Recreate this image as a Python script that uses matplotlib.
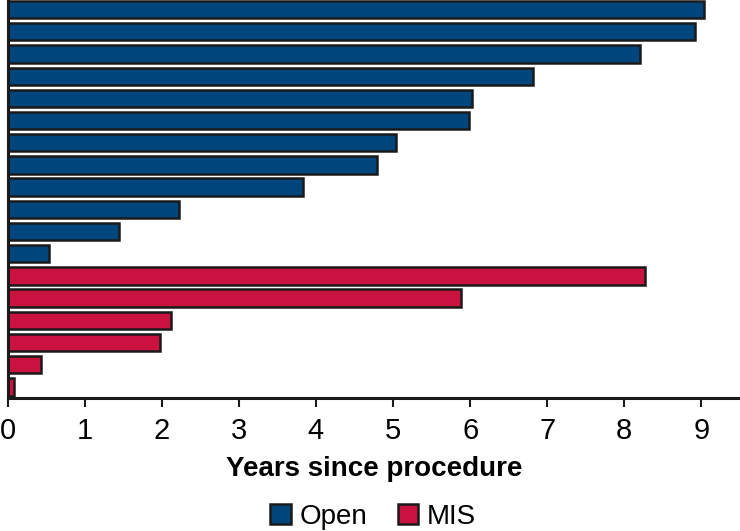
import matplotlib
matplotlib.use("Agg")
import matplotlib.pyplot as plt
from matplotlib.patches import Patch

plt.rcParams['font.family'] = ['Liberation Sans', 'DejaVu Sans']

open_years = [9.03, 8.92, 8.20, 6.82, 6.02, 5.99, 5.04, 4.79, 3.83, 2.23, 1.44, 0.54]
mis_years = [8.27, 5.88, 2.12, 1.98, 0.43, 0.09]
series_names = ["Open", "MIS"]
series_colors = ["#00467D", "#C9123F"]
xticks = list(range(0, 10))
xlabel = "Years since procedure"

fig = plt.figure(figsize=(7.40, 5.31), dpi=100)
ax = fig.add_axes([7.5 / 740, (531 - 398) / 531, 1 - 7.5 / 740, 399.5 / 531])

values = open_years + mis_years
colors = [series_colors[0]] * len(open_years) + [series_colors[1]] * len(mis_years)
positions = list(range(len(values)))
ax.barh(positions, values, height=0.78, color=colors, edgecolor="#1a1a1a", linewidth=1.8, zorder=2)

ax.set_ylim(len(values) - 0.5, -0.5)
ax.set_xlim(0, 9.5)
ax.set_yticks([])
ax.set_xticks(xticks)
ax.set_xticklabels([str(t) for t in xticks], fontsize=21)
ax.tick_params(axis='x', length=6.5, width=1.5, pad=7, color="#1a1a1a")
for s in ['top', 'right']:
    ax.spines[s].set_visible(False)
for s in ['left', 'bottom']:
    ax.spines[s].set_linewidth(2.2)
    ax.spines[s].set_color("#1a1a1a")
    ax.spines[s].set_zorder(3)
ax.set_xlabel(xlabel, fontsize=20, fontweight='bold', labelpad=8)

handles = [Patch(facecolor=c, edgecolor="#1a1a1a", linewidth=1.8, label=n) for n, c in zip(series_names, series_colors)]
fig.legend(handles=handles, loc='center', bbox_to_anchor=(373 / 740, 1 - 517 / 531), ncol=2,
           frameon=False, fontsize=20, handlelength=0.75, handleheight=0.75,
           handletextpad=0.3, columnspacing=1.1, borderaxespad=0)

fig.savefig("out.png", dpi=100)
